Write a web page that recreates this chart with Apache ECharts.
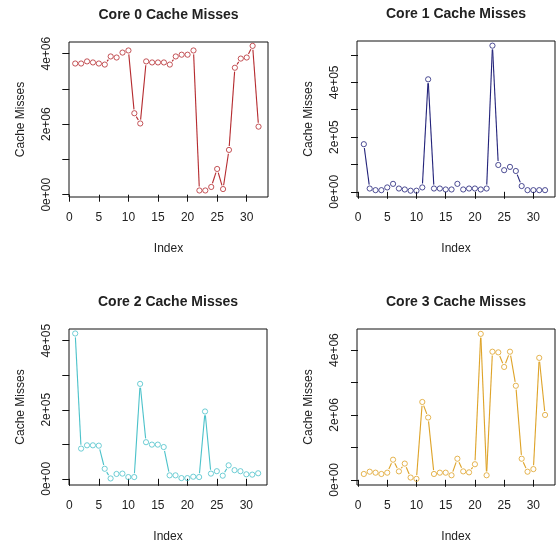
<!DOCTYPE html>
<html>
<head>
<meta charset="utf-8">
<script src="https://cdn.jsdelivr.net/npm/echarts@6/dist/echarts.min.js"></script>
<style>
html,body{margin:0;padding:0;background:#fff;}
#chart{width:556px;height:544px;}
</style>
</head>
<body>
<div id="chart"></div>
<script>
// ---- data ----
const titles = ['Core 0 Cache Misses', 'Core 1 Cache Misses', 'Core 2 Cache Misses', 'Core 3 Cache Misses'];
const core0 = [3.72e6, 3.72e6, 3.78e6, 3.75e6, 3.72e6, 3.69e6, 3.92e6, 3.89e6, 4.03e6, 4.09e6,
               2.31e6, 2.02e6, 3.78e6, 3.75e6, 3.75e6, 3.75e6, 3.69e6, 3.92e6, 3.97e6, 3.97e6,
               4.09e6, 0.12e6, 0.12e6, 0.22e6, 0.73e6, 0.16e6, 1.27e6, 3.60e6, 3.86e6, 3.89e6,
               4.22e6, 1.93e6];
const core1 = [1.74e5, 0.12e5, 0.06e5, 0.06e5, 0.16e5, 0.29e5, 0.12e5, 0.085e5, 0.04e5, 0.04e5,
               0.16e5, 4.11e5, 0.12e5, 0.12e5, 0.085e5, 0.085e5, 0.29e5, 0.085e5, 0.12e5, 0.12e5,
               0.085e5, 0.12e5, 5.34e5, 0.98e5, 0.79e5, 0.91e5, 0.76e5, 0.21e5, 0.06e5, 0.06e5,
               0.06e5, 0.06e5];
const core2 = [4.21e5, 0.875e5, 0.97e5, 0.97e5, 0.96e5, 0.29e5, 0.01e5, 0.14e5, 0.15e5, 0.05e5,
               0.05e5, 2.75e5, 1.06e5, 0.99e5, 0.99e5, 0.92e5, 0.10e5, 0.10e5, 0.02e5, 0.02e5,
               0.06e5, 0.05e5, 1.95e5, 0.15e5, 0.22e5, 0.09e5, 0.39e5, 0.25e5, 0.22e5, 0.13e5,
               0.12e5, 0.16e5];
const core3 = [0.18e6, 0.25e6, 0.22e6, 0.18e6, 0.22e6, 0.62e6, 0.26e6, 0.50e6, 0.07e6, 0.03e6,
               2.40e6, 1.92e6, 0.18e6, 0.22e6, 0.22e6, 0.14e6, 0.65e6, 0.26e6, 0.23e6, 0.48e6,
               4.50e6, 0.14e6, 3.95e6, 3.93e6, 3.48e6, 3.95e6, 2.90e6, 0.65e6, 0.25e6, 0.33e6,
               3.76e6, 2.00e6];
const xTicks = [0, 5, 10, 15, 20, 25, 30];
const yTicks0 = [0, 1e6, 2e6, 3e6, 4e6];
const yLabels0 = [0, 2e6, 4e6];
const yTicks1 = [0, 1e5, 2e5, 3e5, 4e5, 5e5];
const yLabels1 = [0, 2e5, 4e5];
const yTicks2 = [0, 1e5, 2e5, 3e5, 4e5];
const yLabels2 = [0, 2e5, 4e5];
const yTicks3 = [0, 1e6, 2e6, 3e6, 4e6];
const yLabels3 = [0, 2e6, 4e6];
const xName = 'Index';
const yName = 'Cache Misses';

// ---- layout / style ----
const seriesData = [core0, core1, core2, core3];
const yTickSets = [yTicks0, yTicks1, yTicks2, yTicks3];
const yLabelSets = [yLabels0, yLabels1, yLabels2, yLabels3];
const colors = ['#b52b2f', '#23237a', '#4cc2ca', '#dea328'];
const grids = [
  {left: 69, top: 42, width: 199, height: 155},
  {left: 357, top: 41, width: 198, height: 156},
  {left: 69, top: 329, width: 198, height: 156},
  {left: 357, top: 329, width: 198, height: 156}
];
const xRanges = [[-0.05, 33.6], [-0.17, 33.7], [-0.05, 33.5], [-0.17, 33.7]];
const yRanges = [[-0.065e6, 4.33e6], [-0.19e5, 5.51e5], [-0.18e5, 4.34e5], [-0.16e6, 4.65e6]];

const FONT = 'Liberation Sans, Arial, sans-serif';
const TXT = '#222';

function rExp(v) {
  return v.toExponential().replace(/e([+-])(\d)$/, 'e$10$2');
}

const option = {
  animation: false,
  backgroundColor: '#fff',
  title: titles.map((t, i) => ({
    text: t,
    left: grids[i].left + grids[i].width / 2,
    top: grids[i].top - 34,
    padding: 0,
    textAlign: 'center',
    textStyle: {fontFamily: FONT, fontSize: 14, fontWeight: 'bold', color: TXT}
  })),
  grid: grids.map(g => Object.assign({show: true, borderColor: '#111', borderWidth: 1, backgroundColor: 'transparent'}, g)),
  xAxis: grids.map((g, i) => ({
    type: 'value', gridIndex: i,
    min: xRanges[i][0], max: xRanges[i][1],
    name: xName, nameLocation: 'middle', nameGap: 46,
    nameTextStyle: {fontFamily: FONT, fontSize: 12, color: TXT},
    axisLine: {show: false},
    axisTick: {show: true, inside: false, length: 7, customValues: xTicks, lineStyle: {color: '#111'}},
    axisLabel: {show: true, margin: 15, customValues: xTicks, fontFamily: FONT, fontSize: 12, color: TXT},
    splitLine: {show: false}
  })),
  yAxis: grids.map((g, i) => ({
    type: 'value', gridIndex: i,
    min: yRanges[i][0], max: yRanges[i][1],
    name: yName, nameLocation: 'middle', nameGap: 42,
    nameTextStyle: {fontFamily: FONT, fontSize: 12, color: TXT},
    axisLine: {show: false},
    axisTick: {show: true, inside: false, length: 7, customValues: yTickSets[i], lineStyle: {color: '#111'}},
    axisLabel: {show: true, rotate: 90, margin: 16, customValues: yLabelSets[i], formatter: rExp,
                fontFamily: FONT, fontSize: 12, color: TXT},
    splitLine: {show: false}
  })),
  series: []
};

const GAP = 3.9;
seriesData.forEach((vals, i) => {
  const segs = vals.slice(0, -1).map((v, k) => [k + 1, v, k + 2, vals[k + 1]]);
  option.series.push({
    type: 'custom', xAxisIndex: i, yAxisIndex: i,
    data: segs,
    encode: {x: [0, 2], y: [1, 3]},
    renderItem: function (params, api) {
      const p1 = api.coord([api.value(0), api.value(1)]);
      const p2 = api.coord([api.value(2), api.value(3)]);
      const dx = p2[0] - p1[0], dy = p2[1] - p1[1];
      const len = Math.sqrt(dx * dx + dy * dy);
      if (len <= 2 * GAP + 0.5) return null;
      const ux = dx / len, uy = dy / len;
      return {
        type: 'line',
        shape: {x1: p1[0] + ux * GAP, y1: p1[1] + uy * GAP, x2: p2[0] - ux * GAP, y2: p2[1] - uy * GAP},
        style: {stroke: colors[i], lineWidth: 1.1}
      };
    }
  });
  option.series.push({
    type: 'scatter', xAxisIndex: i, yAxisIndex: i,
    data: vals.map((v, k) => [k + 1, v]),
    symbol: 'circle', symbolSize: 5.2,
    itemStyle: {color: 'rgba(255,255,255,0)', borderColor: colors[i], borderWidth: 1},
    emphasis: {disabled: true}
  });
});

const chart = echarts.init(document.getElementById('chart'), null, {renderer: 'canvas'});
chart.setOption(option);
</script>
</body>
</html>
